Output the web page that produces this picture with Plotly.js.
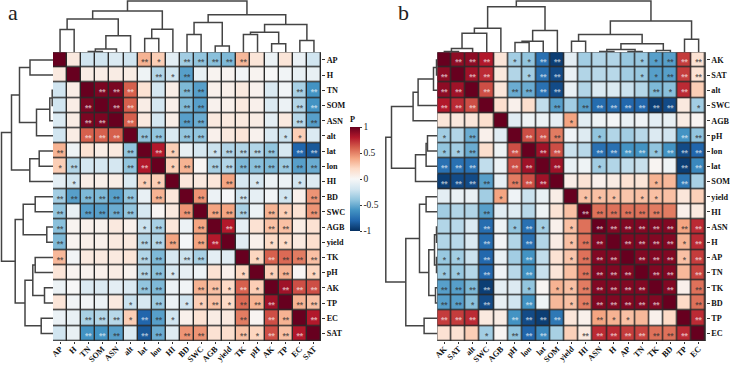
<!DOCTYPE html>
<html><head><meta charset="utf-8">
<script src="https://cdn.plot.ly/plotly-3.0.1.min.js"></script>
<style>html,body{margin:0;padding:0;background:#fff}#c{width:730px;height:365px}</style>
</head><body><div id="c"></div>
<script>
const labelsA=['AP','H','TN','SOM','ASN','alt','lat','lon','HI','BD','SWC','AGB','yield','TK','pH','AK','TP','EC','SAT'];
const labelsB=['AK','SAT','alt','SWC','AGB','pH','lon','lat','SOM','yield','HI','ASN','H','AP','TN','TK','BD','TP','EC'];
// upper triangles of the correlation matrices
const upperA=[
[1,.1,-.2,-.2,-.15,-.2,.35,.25,-.1,-.35,-.4,-.42,-.45,.33,.13,-.06,.13,-.07,-.2],
[1,.07,.07,.08,.08,-.05,-.3,-.2,-.55,-.08,.03,.03,-.03,.03,0,-.03,-.08,-.08],
[1,.95,.95,.6,.15,-.18,.07,-.45,-.55,.05,.06,.1,.04,-.15,-.03,-.33,-.6],
[1,.95,.6,.07,-.18,.06,-.45,-.55,.04,.05,.1,.05,-.15,-.06,-.3,-.6],
[1,.6,.1,-.18,.07,-.55,-.5,.1,.1,.1,.08,-.1,.1,-.28,-.55],
[1,-.4,-.4,-.15,-.4,-.4,.05,.1,.13,.04,-.15,-.22,.25,-.15],
[1,.8,.25,-.08,-.17,-.22,-.3,-.3,-.3,-.4,-.17,-.8,-.85],
[1,.25,.35,.02,-.33,-.3,-.45,-.42,-.45,-.37,-.55,-.5],
[1,.12,.1,.12,.4,-.17,-.17,-.06,-.06,-.2,-.13],
[1,.45,-.06,-.01,-.22,-.09,-.03,-.2,.05,.45],
[1,.4,.4,-.33,-.06,.35,.25,.15,.45],
[1,.8,-.1,.15,.3,.3,.08,.15],
[1,-.12,.05,.2,.2,.1,.17],
[1,.22,.6,.57,.52,.3],
[1,.25,.35,.02,.22],
[1,.85,.65,.65],
[1,.35,.3],
[1,.8],
[1]];
const upperB=[
[1,.9,.9,.8,.13,-.35,-.4,-.75,-.95,-.1,-.35,-.3,-.3,-.38,-.38,-.55,-.55,.7,.15],
[1,.85,.75,.11,-.3,-.35,-.75,-.9,-.07,-.3,-.28,-.28,-.35,-.38,-.55,-.55,.7,.15],
[1,.65,.12,-.5,-.5,-.75,-.9,-.07,-.3,-.15,-.15,-.22,-.29,-.45,-.42,.75,.25],
[1,.17,.05,.17,-.25,-.55,-.35,-.55,-.77,-.77,-.79,-.79,-.95,-.9,.1,-.35],
[1,-.12,-.05,-.06,-.09,.4,-.11,-.05,-.02,-.07,-.04,-.1,-.08,.08,.02],
[1,.65,.65,.52,-.04,-.13,-.4,-.3,-.35,-.28,-.14,-.2,-.6,-.4],
[1,.85,.65,-.22,-.28,-.75,-.75,-.6,-.6,-.4,-.6,-.9,-.8],
[1,.85,-.08,-.05,-.35,-.3,-.25,-.23,.02,-.05,-.95,-.65],
[1,.07,.14,.05,.08,.15,.13,.35,.33,-.72,-.33],
[1,.3,.3,.3,.28,.3,.3,.3,.12,.24],
[1,.55,.55,.55,.55,.52,.52,.05,.1],
[1,.93,.93,.93,.93,.93,.4,.75],
[1,.93,.93,.93,.93,.35,.75],
[1,.93,.93,.93,.3,.7],
[1,.93,.93,.33,.68],
[1,.93,.05,.55],
[1,.2,.55],
[1,.75],
[1]];
// significance: 0 none, 1 *, 2 **
const starsA=[
'0000002102222200000','0000000212000000000','0002220002200000022','0020220002200000022',
'0022020002200000022','0022202202200000110','2000020210012222022','1200022012022222222',
'0100001100002010010','2222220200200200102','2022220002022202102','2000001200202002200',
'2000002220220001100','2000002202200012222','0000002210000101201','0000002200221210222',
'0000010201121222022','0022212210000202202','0022202202200212220'];
const starsB=[
'0222011220000011222','2022001220000011222','2202022220000002120','2220000020222222201',
'0000000001000000000','1020002220010000022','1120020220022221222','2220022020010000022',
'2222022200000001020','0000100000111011000','0002000000222222000','0002012101022222222',
'0002002001220222212','1102002001222022212','1102002000222202202','2222001011222220202',
'2212002001222222002','2220022220021100002','0001022200222222220'];
// dendrograms: [left, right, height]; integers are leaves
const treeA=[[[[0,1,23],[[[2,3,.8],4,3.2],5,16.5],33.5],[[6,7,13.8],8,23.2],41.5],
 [[[9,10,17.8],[11,12,6.2],29.8],[[[13,14,17.8],[15,16,8.5],20.2],[17,18,11.8],28],37.8],51.5];
const treeB=[[[[[[0,1,.8],2,3.8],3,19.2],4,24.2],[[[5,6,9.8],7,11.2],8,21.8],45.8],
 [[[9,10,11.2],[[[11,12,.8],[13,14,.8],2.8],[15,16,1.8],8.5],17.8],[17,18,13.2],31.5],51.5];

const W=730,H=365,top_=52.3,bot=341,dendroH=52.5;
const rdbu=[[0,'#053061'],[.1,'#2166ac'],[.2,'#4393c3'],[.3,'#92c5de'],[.4,'#d1e5f0'],[.5,'#f7f7f7'],[.6,'#fddbc7'],[.7,'#f4a582'],[.8,'#d6604d'],[.9,'#b2182b'],[1,'#67001f']];
const serifBold={family:'Liberation Serif',size:8.2,color:'#111',weight:'bold'};

function fullMatrix(u){const n=u.length,m=[];for(let i=0;i<n;i++)m.push(new Array(n));
 u.forEach((r,i)=>r.forEach((v,k)=>{m[i][i+k]=v;m[i+k][i]=v;}));return m;}
function dendroSegs(tree){const a=[],b=[];
 (function walk(t){if(typeof t==='number')return {p:t,h:0};
  const l=walk(t[0]),r=walk(t[1]),h=t[2];
  a.push(l.p,l.p,r.p,r.p,null);b.push(l.h,h,h,r.h,null);
  return {p:(l.p+r.p)/2,h};})(tree);
 return {pos:a,hgt:b};}

const traces=[],layout={width:W,height:H,margin:{l:0,r:0,t:0,b:0},paper_bgcolor:'#fff',plot_bgcolor:'rgba(0,0,0,0)',showlegend:false,shapes:[],
 annotations:[
 {text:'a',xref:'paper',yref:'paper',x:6/W,y:1-27/H,xanchor:'left',yanchor:'bottom',showarrow:false,font:{family:'Liberation Serif',size:22,color:'#222'}},
 {text:'b',xref:'paper',yref:'paper',x:396/W,y:1-27/H,xanchor:'left',yanchor:'bottom',showarrow:false,font:{family:'Liberation Serif',size:22,color:'#222'}}]};

function panel(idx,labels,upper,stars,tree,x0,x1,dl,withBar){
 const xh=idx===0?'x':'x3',yh=idx===0?'y':'y3',yd=idx===0?'y2':'y4',xd=idx===0?'x2':'x4';
 const ln=s=>s==='x'||s==='y'?'':s.slice(1);
 const ak=(p,s)=>p+'axis'+ln(s);
 const z=fullMatrix(upper),n=labels.length,ids=labels.map((_,i)=>i);
 const hm={type:'heatmap',z:z,x:ids,y:ids,xaxis:xh,yaxis:yh,zmin:-1,zmax:1,colorscale:rdbu,xgap:1.4,ygap:1.4,hoverinfo:'skip',showscale:!!withBar};
 if(withBar)hm.colorbar={x:350/W,xanchor:'left',y:1-113/H,yanchor:'top',len:118/H,lenmode:'fraction',thickness:10,thicknessmode:'pixels',xpad:0,ypad:0,outlinewidth:0,
  tickvals:[-1,-.5,0,.5,1],ticktext:['-1','-0.5','0','0.5','1'],ticks:'outside',ticklen:2,tickwidth:1,tickcolor:'#333',tickfont:{family:'Liberation Serif',size:9.5,color:'#222'},
  title:{text:'P',side:'top',font:serifBold}};
 traces.push(hm);
 const sets=[{c:'rgba(255,255,255,.6)',test:v=>Math.abs(v)>=.58},{c:'rgba(50,50,50,.72)',test:v=>Math.abs(v)<.58}];
 sets.forEach(s=>{const xs=[],ys=[],t=[];
  for(let i=0;i<n;i++)for(let j=0;j<n;j++){const k=+stars[i][j];
   if(k&&s.test(z[i][j])){xs.push(j);ys.push(i+.2);t.push(k===2?'**':'*');}}
  traces.push({type:'scatter',mode:'text',x:xs,y:ys,text:t,xaxis:xh,yaxis:yh,textposition:'middle center',
   textfont:{family:'Liberation Sans',size:8.5,color:s.c,weight:'bold'},hoverinfo:'skip'});});
 const seg=dendroSegs(tree),lineD={color:'#444',width:1.5};
 traces.push({type:'scatter',mode:'lines',x:seg.pos,y:seg.hgt,xaxis:xh,yaxis:yd,line:lineD,hoverinfo:'skip',connectgaps:false});
 traces.push({type:'scatter',mode:'lines',x:seg.hgt,y:seg.pos,xaxis:xd,yaxis:yh,line:lineD,hoverinfo:'skip',connectgaps:false});
 layout[ak('x',xh)]={domain:[x0/W,x1/W],range:[-.5,n-.5],anchor:yh,side:'bottom',tickmode:'array',tickvals:ids,ticktext:labels,tickangle:-45,ticks:'outside',ticklen:2,tickwidth:1,tickcolor:'#333',tickfont:serifBold,ticklabelstandoff:-3,showgrid:false,zeroline:false,showline:false};
 layout[ak('y',yh)]={domain:[1-bot/H,1-top_/H],range:[n-.5,-.5],anchor:xh,side:'right',tickmode:'array',tickvals:ids,ticktext:labels,ticks:'outside',ticklen:3,tickwidth:1,tickcolor:'#333',tickfont:serifBold,showgrid:false,zeroline:false,showline:false};
 layout[ak('y',yd)]={domain:[1-top_/H,1],range:[0,dendroH],anchor:xh,visible:false};
 layout[ak('x',xd)]={domain:[(x0-dl)/W,x0/W],range:[dl,0],anchor:yh,visible:false};
 layout.shapes.push({type:'rect',xref:xh,yref:yh,x0:-.5,x1:n-.5,y0:-.5,y1:n-.5,layer:'below',fillcolor:'#2a2a2a',line:{color:'#2a2a2a',width:1}});
}
panel(0,labelsA,upperA,starsA,treeA,53,321,53,true);
panel(1,labelsB,upperB,starsB,treeB,437.3,705.7,53,false);
Plotly.newPlot('c',traces,layout,{displayModeBar:false,staticPlot:true});
</script></body></html>
